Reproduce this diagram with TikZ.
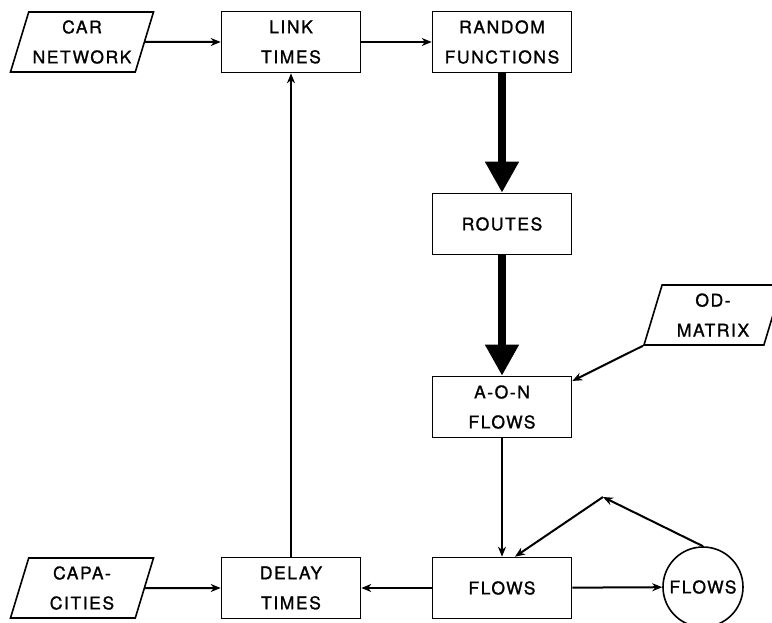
\documentclass[tikz,border=0pt]{standalone}
\usepackage{fontspec}
\setmainfont{TeX Gyre Heros}[LetterSpace=9,FakeBold=1.2]
\usetikzlibrary{arrows.meta,shapes.geometric}

\begin{document}
\begin{tikzpicture}[x=1pt,y=-1pt,
    box/.style={draw,line width=1.6pt,minimum width=139pt,minimum height=61pt,
      align=center,font=\fontsize{17.5}{30}\selectfont},
    data/.style={draw,line width=1.6pt,trapezium,trapezium left angle=70,
      trapezium right angle=110,trapezium stretches body,minimum width=143pt,
      minimum height=60pt,align=center,font=\fontsize{17.5}{30}\selectfont},
    flow/.style={line width=2pt,-{Stealth[length=10pt,width=8pt]}},
    main/.style={line width=7.5pt,-{Triangle[length=31pt 0 0,width=32pt 0 0]}}]
    \useasboundingbox (0,0) rectangle (772,623);
    \node[data] (car) at (82,42) {CAR\\NETWORK};
    \node[box] (link) at (291,42) {LINK\\TIMES};
    \node[box] (rand) at (502,42) {RANDOM\\FUNCTIONS};
    \node[box] (routes) at (502,224) {ROUTES};
    \node[data,minimum width=138pt] (od) at (713,315) {OD-\\MATRIX};
    \node[box] (aon) at (502,407) {A-O-N\\FLOWS};
    \node[box] (flows) at (502,588) {FLOWS};
    \node[data] (cap) at (82,588) {CAPA-\\CITIES};
    \node[box] (delay) at (291,588) {DELAY\\TIMES};
    \node[draw,circle,line width=1.6pt,minimum size=80pt,inner sep=0pt,
      font=\fontsize{17.5}{30}\selectfont] (circ) at (703,587) {FLOWS};
    \coordinate (apex) at (603,497);
    \draw[flow] (car.east) -- (link.west);
    \draw[flow] (link) -- (rand);
    \draw[main] (rand) -- (routes);
    \draw[main] (routes) -- (aon);
    \draw[flow] (od.bottom left corner) -- ([yshift=26pt]aon.east);
    \draw[flow] (aon) -- (flows);
    \draw[flow] (flows) -- (circ);
    \draw[flow] (circ.north) -- (apex);
    \draw[flow] (apex) -- ([xshift=13pt]flows.north);
    \draw[flow] (flows) -- (delay);
    \draw[flow] (cap.east) -- (delay.west);
    \draw[flow] (delay) -- (link);
  \end{tikzpicture}
\end{document}
